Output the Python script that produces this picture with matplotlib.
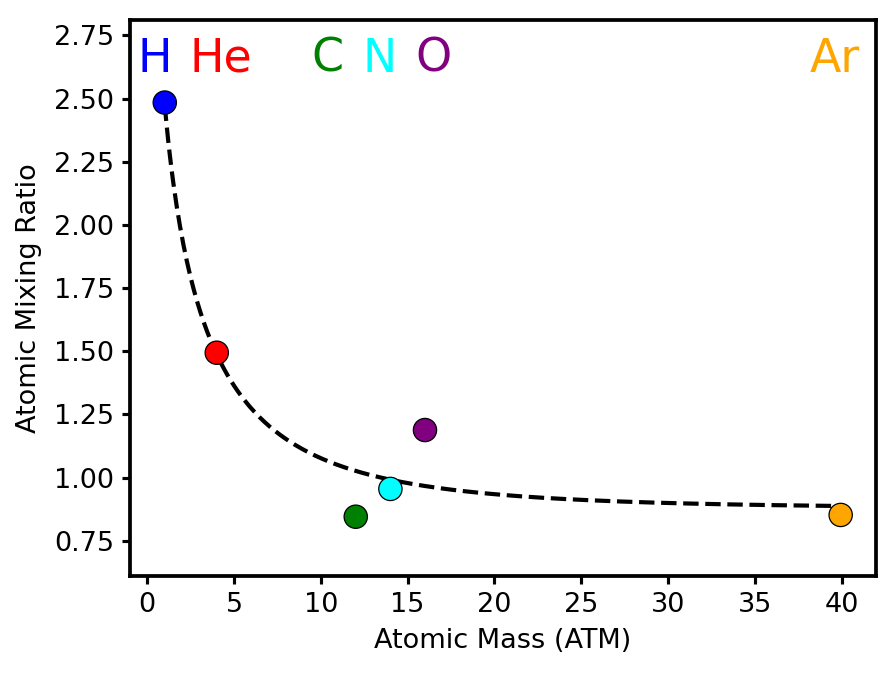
import numpy as np
import matplotlib
matplotlib.use("Agg")
import matplotlib.pyplot as plt

# element data
elements = ["H", "He", "C", "N", "O", "Ar"]
atomic_mass = [1.008, 4.003, 12.011, 14.007, 15.999, 39.948]
mixing_ratio = [2.484, 1.494, 0.845, 0.955, 1.188, 0.852]
colors = ["blue", "red", "green", "cyan", "purple", "orange"]

# where the element names sit along the top (data x)
label_x = [0.45, 4.25, 10.4, 13.4, 16.5, 39.6]
label_y = 2.655

# fitted trend: a + b * exp(-c * sqrt(m))
fit_a, fit_b, fit_c = 0.878, 4.2, 0.965


def trend(m):
    return fit_a + fit_b * np.exp(-fit_c * np.sqrt(m))


fig = plt.figure(figsize=(896 / 150, 673 / 150), dpi=150)
ax = fig.add_axes([0.145, 0.144, 0.833, 0.826])

m = np.linspace(atomic_mass[0], atomic_mass[-1], 400)
ax.plot(m, trend(m), "k--", lw=2, zorder=1)

ax.scatter(atomic_mass, mixing_ratio, c=colors, s=125,
           edgecolors="black", linewidths=0.6, zorder=3)

for name, x, col in zip(elements, label_x, colors):
    ax.text(x, label_y, name, color=col, fontsize=22,
            ha="center", va="center")

ax.set_xlim(-1, 42)
ax.set_ylim(0.61, 2.81)
ax.set_yticks([0.75, 1.00, 1.25, 1.50, 1.75, 2.00, 2.25, 2.50, 2.75])
ax.yaxis.set_major_formatter(matplotlib.ticker.FormatStrFormatter("%.2f"))
ax.set_xticks(range(0, 45, 5))
ax.set_xlabel("Atomic Mass (ATM)", fontsize=13, labelpad=5)
ax.set_ylabel("Atomic Mixing Ratio", fontsize=13, labelpad=6)
ax.tick_params(width=1.5, length=4, labelsize=13)
for s in ax.spines.values():
    s.set_linewidth(1.8)

fig.savefig("out.png", dpi=150)
